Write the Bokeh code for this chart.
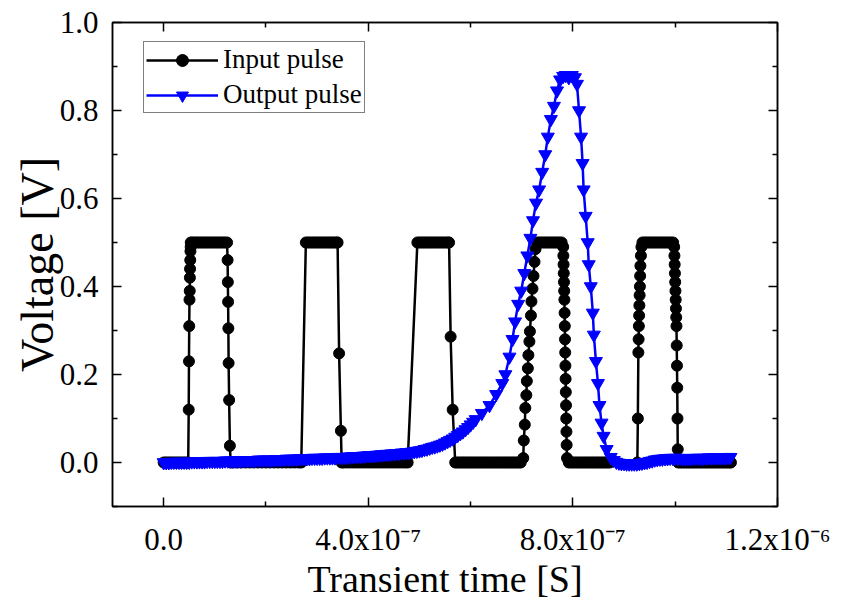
from bokeh.plotting import figure
from bokeh.models import (Range1d, FixedTicker, LinearAxis, Legend, LegendItem,
                          CustomJSTickFormatter, PrintfTickFormatter)
from bokeh.embed import file_html
from bokeh.resources import INLINE

# ---------------- data (time in ns, voltage in V) ----------------
input_t = [
    0, 4, 8, 12, 16, 20, 24, 28, 32, 36, 40, 44, 48,
    49, 49.5, 50, 50.5, 51, 51.3, 51.6, 52, 52.4, 52.8, 53,
    56, 60, 64, 68, 72, 76, 80, 84, 88, 92, 96, 100, 104, 108, 112, 116, 120, 124,
    125, 125.5, 126, 126.5, 127, 128, 129.5, 131,
    136, 144, 152, 160, 168, 176, 184, 192, 200, 208, 216, 224, 232, 240, 248, 256, 264,
    269, 278, 282, 286, 290, 294, 298, 302, 306, 310, 314, 318, 322, 326, 330, 334, 338, 340,
    343, 346.5, 348,
    352, 358, 364, 370, 376, 382, 388, 394, 400, 406, 412, 418, 424, 430, 436, 442, 448, 454, 460, 466, 472,
    477, 496, 500, 504, 508, 512, 516, 520, 524, 528, 532, 536, 540, 544, 548, 552, 556, 558,
    561, 565, 570,
    574, 578, 582, 586, 590, 594, 598, 602, 606, 610, 614, 618, 622, 626, 630, 634,
    638, 642, 646, 650, 654, 658, 662, 666, 670, 674, 678, 682, 686, 690, 694, 698,
    703, 704, 706, 707, 709, 710, 712, 713, 715, 716, 718, 719, 721, 723, 725, 727, 730,
    734, 738, 742, 746, 750, 754, 758, 762, 766, 770, 774, 778,
    781, 781.4, 781.8, 782.2, 782.6, 783, 783.4, 783.8, 784.2, 784.6, 785, 785.4, 785.8, 786.2, 786.6, 787, 787.4, 787.8, 788.5,
    792, 796, 800, 804, 808, 812, 816, 820, 824, 828, 832, 836, 840, 844, 848, 852, 856, 860, 864, 868, 872, 926,
    927, 928, 928.5, 929, 929.5, 930, 930.5, 931, 931.5, 932, 933, 934,
    936, 940, 944, 948, 952, 956, 960, 964, 968, 972, 976, 980, 984, 988, 992, 996,
    998, 998.5, 999, 999.5, 1000, 1000.5, 1001, 1001.5, 1002, 1002.5, 1003, 1003.5, 1004, 1004.5, 1005, 1006,
    1010, 1014, 1018, 1022, 1026, 1030, 1034, 1038, 1042, 1046, 1050, 1054, 1058, 1062, 1066, 1070,
    1074, 1078, 1082, 1086, 1090, 1094, 1098, 1102, 1106, 1109,
]
input_v = [
    0, 0, 0, 0, 0, 0, 0, 0, 0, 0, 0, 0, 0,
    0.12, 0.23, 0.31, 0.37, 0.39, 0.42, 0.44, 0.46, 0.48, 0.49, 0.50,
    0.5, 0.5, 0.5, 0.5, 0.5, 0.5, 0.5, 0.5, 0.5, 0.5, 0.5, 0.5, 0.5, 0.5, 0.5, 0.5, 0.5, 0.5,
    0.46, 0.41, 0.365, 0.305, 0.226, 0.142, 0.038, 0.0,
    0, 0, 0, 0, 0, 0, 0, 0, 0, 0, 0, 0, 0, 0, 0, 0, 0,
    0.0, 0.5, 0.5, 0.5, 0.5, 0.5, 0.5, 0.5, 0.5, 0.5, 0.5, 0.5, 0.5, 0.5, 0.5, 0.5, 0.5, 0.5,
    0.248, 0.072, 0.0,
    0, 0, 0, 0, 0, 0, 0, 0, 0, 0, 0, 0, 0, 0, 0, 0, 0, 0, 0, 0, 0,
    0.0, 0.5, 0.5, 0.5, 0.5, 0.5, 0.5, 0.5, 0.5, 0.5, 0.5, 0.5, 0.5, 0.5, 0.5, 0.5, 0.5, 0.5,
    0.286, 0.12, 0.0,
    0, 0, 0, 0, 0, 0, 0, 0, 0, 0, 0, 0, 0, 0, 0, 0,
    0, 0, 0, 0, 0, 0, 0, 0, 0, 0, 0, 0, 0, 0, 0, 0,
    0.01, 0.05, 0.086, 0.124, 0.153, 0.185, 0.214, 0.244, 0.275, 0.298, 0.334, 0.366, 0.395, 0.424, 0.456, 0.485, 0.5,
    0.5, 0.5, 0.5, 0.5, 0.5, 0.5, 0.5, 0.5, 0.5, 0.5, 0.5, 0.5,
    0.49, 0.47, 0.45, 0.43, 0.41, 0.39, 0.37, 0.34, 0.31, 0.28, 0.25, 0.22, 0.19, 0.16, 0.13, 0.10, 0.07, 0.04, 0.01,
    0, 0, 0, 0, 0, 0, 0, 0, 0, 0, 0, 0, 0, 0, 0, 0, 0, 0, 0, 0, 0, 0,
    0.10, 0.25, 0.28, 0.31, 0.334, 0.357, 0.38, 0.40, 0.424, 0.447, 0.47, 0.49,
    0.5, 0.5, 0.5, 0.5, 0.5, 0.5, 0.5, 0.5, 0.5, 0.5, 0.5, 0.5, 0.5, 0.5, 0.5, 0.5,
    0.49, 0.47, 0.45, 0.43, 0.41, 0.39, 0.37, 0.35, 0.33, 0.31, 0.266, 0.22, 0.17, 0.10, 0.03, 0.0,
    0, 0, 0, 0, 0, 0, 0, 0, 0, 0, 0, 0, 0, 0, 0, 0,
    0, 0, 0, 0, 0, 0, 0, 0, 0, 0,
]

output_t = [
    0, 5, 10, 15, 20, 25, 30, 35, 40, 45,
    50, 55, 60, 65, 70, 75, 80, 85, 90, 95,
    100, 105, 110, 115, 120, 125, 130, 135, 140, 145,
    150, 155, 160, 165, 170, 175, 180, 185, 190, 195,
    200, 205, 210, 215, 220, 225, 230, 235, 240, 245,
    250, 255, 260, 265, 270, 275, 280, 285, 290, 295,
    300, 305, 310, 315, 320, 325, 330, 335, 340, 345,
    350, 355, 360, 365, 370, 375, 380, 385, 390, 395,
    400, 405, 410, 415, 420, 425, 430, 435, 440, 445,
    450, 455, 460, 465, 470, 475, 480, 485, 490, 495,
    500, 505, 510, 515, 520, 525, 530, 535, 540, 545,
    550, 555, 560, 565, 570, 575, 580, 585, 590, 595,
    600, 605, 610,
    622, 637, 650, 662, 668, 676, 682, 687,
    693, 699, 705, 711, 717, 722, 728, 734, 740, 746,
    751, 757, 763, 769, 775, 781, 786, 792, 798, 804,
    808, 812, 816, 819, 821, 825, 829, 831, 835, 839,
    841, 845, 849, 852, 856, 860, 866, 874, 880, 885, 890, 895,
    900, 905, 910, 915, 920, 925, 930, 935, 940, 945,
    950, 955, 960, 965, 970, 975, 980, 985, 990, 995,
    1000, 1005, 1010, 1015, 1020, 1025, 1030, 1035, 1040, 1045,
    1050, 1055, 1060, 1065, 1070, 1075, 1080, 1085, 1090, 1095,
    1100, 1105, 1108,
]
output_v = [
    0.000, 0.000, 0.000, 0.001, 0.001, 0.001, 0.001, 0.001, 0.001, 0.001,
    0.001, 0.002, 0.002, 0.002, 0.002, 0.002, 0.002, 0.003, 0.003, 0.003,
    0.003, 0.003, 0.003, 0.003, 0.004, 0.004, 0.004, 0.004, 0.004, 0.004,
    0.004, 0.005, 0.005, 0.005, 0.005, 0.005, 0.005, 0.006, 0.006, 0.006,
    0.006, 0.006, 0.006, 0.006, 0.007, 0.007, 0.007, 0.007, 0.008, 0.008,
    0.008, 0.008, 0.008, 0.009, 0.009, 0.009, 0.009, 0.009, 0.010, 0.010,
    0.010, 0.010, 0.010, 0.011, 0.011, 0.011, 0.011, 0.011, 0.012, 0.012,
    0.012, 0.012, 0.013, 0.013, 0.014, 0.014, 0.014, 0.014, 0.015, 0.015,
    0.016, 0.016, 0.016, 0.017, 0.017, 0.018, 0.018, 0.019, 0.019, 0.020,
    0.020, 0.021, 0.021, 0.022, 0.022, 0.023, 0.023, 0.024, 0.025, 0.026,
    0.027, 0.028, 0.030, 0.031, 0.033, 0.035, 0.036, 0.038, 0.040, 0.042,
    0.045, 0.048, 0.051, 0.054, 0.058, 0.062, 0.066, 0.070, 0.075, 0.080,
    0.086, 0.092, 0.098,
    0.112, 0.130, 0.155, 0.180, 0.200, 0.240, 0.280, 0.320,
    0.360, 0.390, 0.430, 0.470, 0.510, 0.550, 0.590, 0.620, 0.660, 0.700,
    0.740, 0.780, 0.810, 0.845, 0.870, 0.878, 0.880, 0.875, 0.880, 0.875,
    0.860, 0.800, 0.740, 0.680, 0.620, 0.560, 0.500, 0.450, 0.400, 0.340,
    0.290, 0.230, 0.180, 0.130, 0.090, 0.060, 0.030, 0.012, 0.005, 0.001, -0.001, -0.002,
    -0.002, -0.003, -0.003, -0.003, -0.003, -0.003, -0.002, -0.001, 0.000, 0.001,
    0.003, 0.004, 0.006, 0.007, 0.008, 0.008, 0.009, 0.009, 0.010, 0.010,
    0.010, 0.010, 0.010, 0.009, 0.009, 0.009, 0.009, 0.010, 0.010, 0.010,
    0.010, 0.010, 0.010, 0.011, 0.011, 0.011, 0.011, 0.011, 0.011, 0.011,
    0.011, 0.012, 0.012,
]

series_names = ["Input pulse", "Output pulse"]
x_title = "Transient time [S]"
y_title = "Voltage [V]"
x_tick_values = [0, 400, 800, 1200]
x_tick_labels = ["0.0", "4.0x10\u207b\u2077", "8.0x10\u207b\u2077", "1.2x10\u207b\u2076"]
x_minor_ticks = [200, 600, 1000]
y_tick_values = [0.0, 0.2, 0.4, 0.6, 0.8, 1.0]
y_minor_ticks = [-0.1, 0.1, 0.3, 0.5, 0.7, 0.9]

assert len(input_t) == len(input_v), (len(input_t), len(input_v))
assert len(output_t) == len(output_v), (len(output_t), len(output_v))

FONT = "Liberation Serif"

p = figure(width=850, height=602, output_backend="svg", toolbar_location=None,
           x_range=Range1d(-100, 1200), y_range=Range1d(-0.1, 1.0),
           min_border_left=112, min_border_right=73, min_border_top=22, min_border_bottom=92,
           background_fill_color="white", border_fill_color="white")
p.xgrid.visible = False
p.ygrid.visible = False
p.outline_line_color = "black"
p.outline_line_width = 1.5

xticker = FixedTicker(ticks=x_tick_values, minor_ticks=x_minor_ticks)
yticker = FixedTicker(ticks=y_tick_values, minor_ticks=y_minor_ticks)
xfmt = CustomJSTickFormatter(args=dict(vals=x_tick_values, labs=x_tick_labels), code="""
const i = vals.indexOf(Math.round(tick));
return i >= 0 ? labs[i] : "";
""")
yfmt = PrintfTickFormatter(format="%.1f")
blank_fmt = CustomJSTickFormatter(code='return "";')


def style_axis(ax, show_labels):
    ax.axis_line_color = "black"
    ax.axis_line_width = 1.5
    ax.major_tick_in = 9
    ax.major_tick_out = 0
    ax.minor_tick_in = 5
    ax.minor_tick_out = 0
    ax.major_tick_line_color = "black"
    ax.major_tick_line_width = 1.5
    ax.minor_tick_line_color = "black"
    ax.minor_tick_line_width = 1.5
    ax.major_label_text_font = FONT
    ax.major_label_text_color = "black"
    ax.axis_label_text_font = FONT
    ax.axis_label_text_font_style = "normal"
    ax.axis_label_text_color = "black"
    if show_labels:
        ax.major_label_text_font_size = "31px"
    else:
        ax.formatter = blank_fmt
        ax.major_label_text_font_size = "1px"
        ax.major_label_standoff = 0


xa = p.xaxis[0]
xa.ticker = xticker
xa.formatter = xfmt
style_axis(xa, True)
xa.major_label_standoff = 15
xa.axis_label = x_title
xa.axis_label_text_font_size = "38px"
xa.axis_label_standoff = -2

ya = p.yaxis[0]
ya.ticker = yticker
ya.formatter = yfmt
style_axis(ya, True)
ya.major_label_standoff = 14
ya.axis_label = y_title
ya.axis_label_text_font_size = "46px"
ya.axis_label_standoff = -6

top_ax = LinearAxis(ticker=xticker)
style_axis(top_ax, False)
p.add_layout(top_ax, "above")
right_ax = LinearAxis(ticker=yticker)
style_axis(right_ax, False)
p.add_layout(right_ax, "right")

l_in = p.line(input_t, input_v, line_color="black", line_width=2.5)
s_in = p.scatter(input_t, input_v, marker="circle", size=11,
                 fill_color="black", line_color="black")
l_out = p.line(output_t, output_v, line_color="#0000ff", line_width=2.5)
s_out = p.scatter(output_t, output_v, marker="inverted_triangle", size=13,
                  fill_color="#0000ff", line_color="#0000ff")

legend = Legend(items=[LegendItem(label=series_names[0], renderers=[l_in, s_in]),
                       LegendItem(label=series_names[1], renderers=[l_out, s_out])],
                location=(31, 393))
legend.border_line_color = "black"
legend.border_line_width = 1.5
legend.background_fill_color = "white"
legend.background_fill_alpha = 1.0
legend.padding = 2
legend.spacing = 4
legend.margin = 0
legend.glyph_width = 72
legend.glyph_height = 30
legend.label_standoff = 5
legend.label_text_font = FONT
legend.label_text_font_size = "27px"
legend.label_text_color = "black"
p.add_layout(legend)

with open("out.html", "w", encoding="utf-8") as f:
    f.write(file_html(p, INLINE))
